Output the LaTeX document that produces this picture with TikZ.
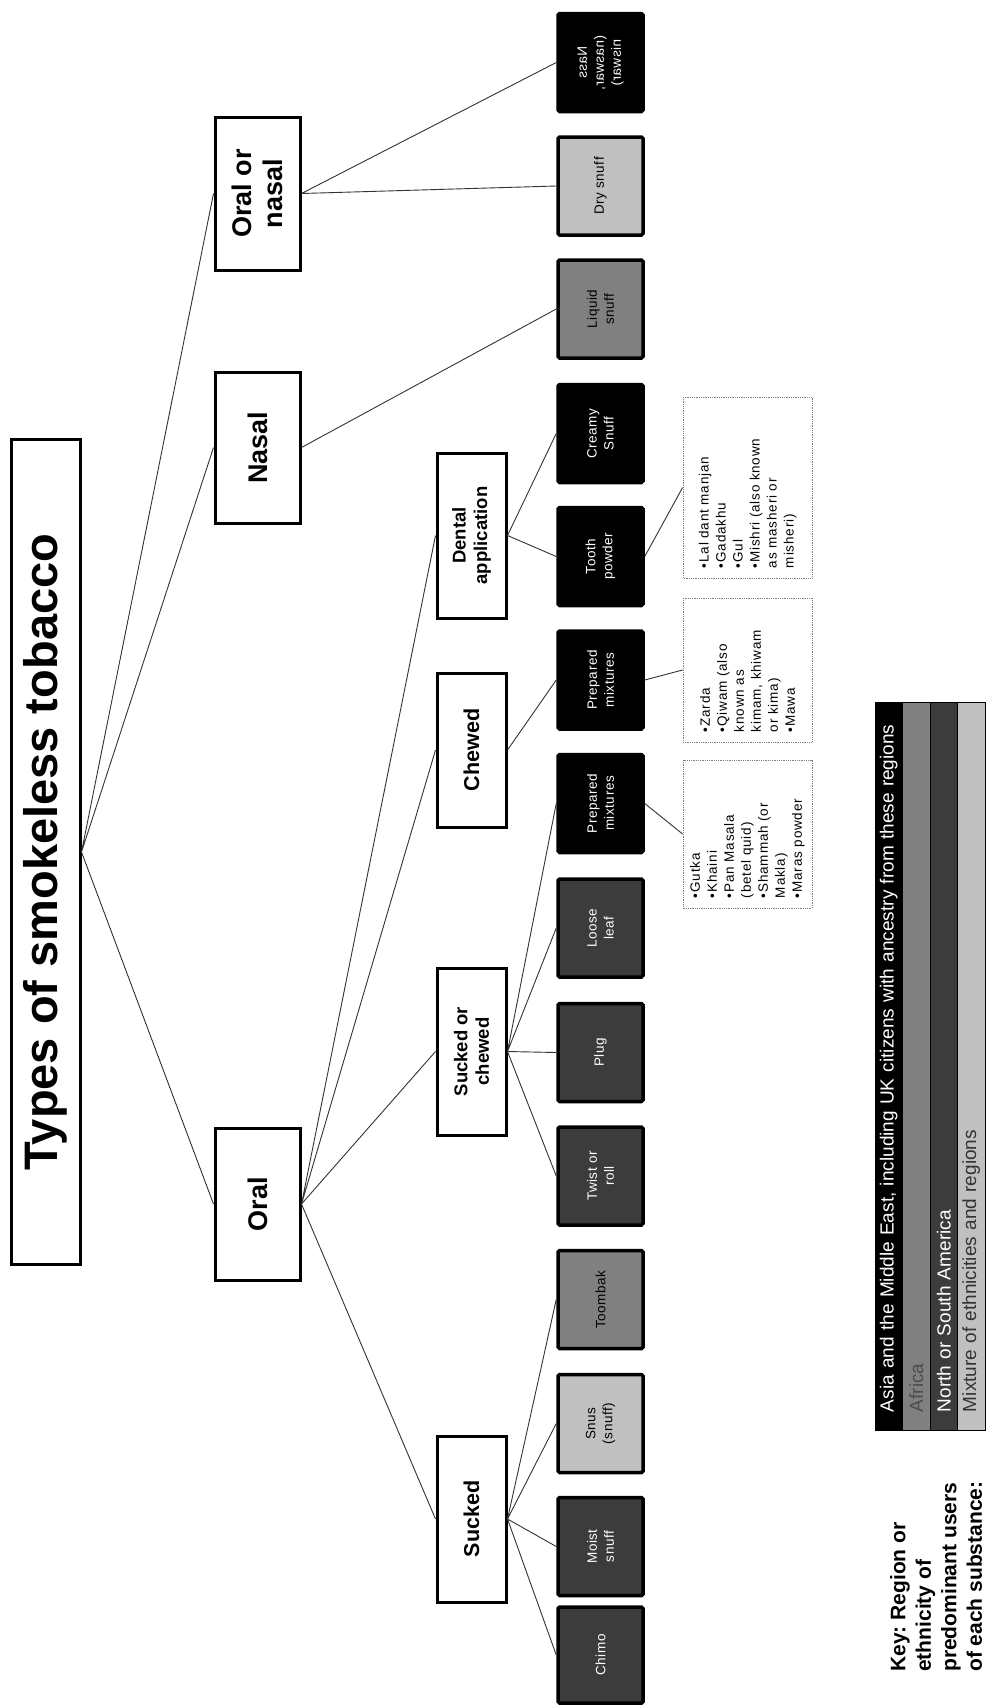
\documentclass[tikz,border=0pt]{standalone}
\usepackage{fontspec}
\setmainfont{Liberation Sans}
\usepackage{tikz}
\definecolor{cAfrica}{HTML}{808080}
\definecolor{cAmer}{HTML}{3C3C3C}
\definecolor{cMix}{HTML}{C0C0C0}

\begin{document}
\frenchspacing
\begin{tikzpicture}[x=1pt,y=-1pt,
hd/.style={draw,line width=3pt,fill=white,rotate=90,align=center,inner sep=2pt},
lvlA/.style={hd,minimum height=85pt,font=\fontsize{27}{31}\selectfont\bfseries},
lvlB/.style={hd,minimum height=69pt,font=\fontsize{18.5}{21.5}\selectfont\bfseries},
leaf/.style={draw,line width=3.5pt,rounded corners=1.5pt,rotate=90,align=center,inner sep=2pt,
  minimum width=98pt,minimum height=85pt,
  font=\fontsize{13.5}{17}\selectfont\addfontfeature{LetterSpace=4}},
asia/.style={leaf,fill=black,text=white},
africa/.style={leaf,fill=cAfrica,text=black},
americas/.style={leaf,fill=cAmer,text=white},
mixed/.style={leaf,fill=cMix,text=black},
lst/.style={draw=gray,densely dotted,line width=.8pt,rotate=90,align=left,minimum height=129pt,
  inner xsep=10pt,font=\fontsize{13.5}{17}\selectfont\addfontfeature{LetterSpace=6}},
keyrow/.style={draw,line width=.8pt,rotate=90,minimum width=728pt,minimum height=27.5pt,
  text width=692pt,align=left,inner sep=0pt,font=\fontsize{19}{21}\selectfont},
link/.style={draw=black!80,line width=.9pt}]
\fill[white] (0,0) rectangle (991,1708);
\useasboundingbox (0,0) rectangle (991,1708);

\node[draw,line width=3pt,rotate=90,minimum width=825pt,minimum height=69pt,
  font=\fontsize{47}{50}\selectfont\bfseries] (T) at (45.5,852) {Types of smokeless tobacco};

\node[lvlA,minimum width=153pt] (ornas) at (257.5,193.5) {Oral or\\nasal};
\node[lvlA,minimum width=151pt] (nasal) at (257.5,447.5) {Nasal};
\node[lvlA,minimum width=152pt] (oral) at (257.5,1204) {Oral};

\node[lvlB,minimum width=165pt] (dent) at (471.5,535.5) {Dental\\application};
\node[lvlB,minimum width=154pt,font=\fontsize{21.5}{25}\selectfont\bfseries] (chew) at (471.5,750) {Chewed};
\node[lvlB,minimum width=167pt] (sorc) at (471.5,1051.5) {Sucked or\\chewed};
\node[lvlB,minimum width=166pt,font=\fontsize{21.5}{25}\selectfont\bfseries] (suck) at (471.5,1519) {Sucked};

\node[asia] (nass) at (600.5,62.5) {\reflectbox{\begin{tabular}{@{}c@{}}Nass\\(naswar,\\niswar)\end{tabular}}};
\node[mixed] (dry) at (600.5,186) {Dry snuff};
\node[africa] (liquid) at (600.5,309) {Liquid\\snuff};
\node[asia] (creamy) at (600.5,433.5) {Creamy\\Snuff};
\node[asia] (tooth) at (600.5,556.5) {Tooth\\powder};
\node[asia] (prepB) at (600.5,680) {Prepared\\mixtures};
\node[asia] (prepA) at (600.5,803.5) {Prepared\\mixtures};
\node[americas] (loose) at (600.5,928) {Loose\\leaf};
\node[americas] (plug) at (600.5,1052.5) {Plug};
\node[americas] (twist) at (600.5,1176) {Twist or\\roll};
\node[africa] (toombak) at (600.5,1299.5) {Toombak};
\node[mixed] (snus) at (600.5,1423.5) {Snus\\(snuff)};
\node[americas] (moist) at (600.5,1546.5) {Moist\\snuff};
\node[americas,minimum width=96pt] (chimo) at (600.5,1655) {Chimo};

\node[lst,minimum width=148pt,text width=128pt] (listA) at (747.5,834)
  {•Gutka\\•Khaini\\•Pan Masala\\(betel quid)\\•Shammah (or\\Makla)\\•Maras powder};
\node[lst,minimum width=144pt,text width=124pt] (listB) at (747.5,670)
  {•Zarda\\•Qiwam (also\\known as\\kimam, khiwam\\or kima)\\•Mawa};
\node[lst,minimum width=181pt,text width=161pt] (listC) at (747.5,487.5)
  {•Lal dant manjan\\•Gadakhu\\•Gul\\•Mishri (also known\\as masheri or\\misheri)};

\draw[link] (T.south) -- (ornas.north) (T.south) -- (nasal.north) (T.south) -- (oral.north);
\draw[link] (ornas.south) -- (nass.north) (ornas.south) -- (dry.north);
\draw[link] (nasal.south) -- (liquid.north);
\draw[link] (oral.south) -- (dent.north) (oral.south) -- (chew.north)
  (oral.south) -- (sorc.north) (oral.south) -- (suck.north);
\draw[link] (dent.south) -- (tooth.north) (dent.south) -- (creamy.north);
\draw[link] (chew.south) -- (prepB.north);
\draw[link] (sorc.south) -- (twist.north) (sorc.south) -- (plug.north)
  (sorc.south) -- (loose.north) (sorc.south) -- (prepA.north);
\draw[link] (suck.south) -- (chimo.north) (suck.south) -- (moist.north)
  (suck.south) -- (snus.north) (suck.south) -- (toombak.north);
\draw[link] (prepA.south) -- (listA.north);
\draw[link] (prepB.south) -- (listB.north);
\draw[link] (tooth.south) -- (listC.north);

% key
\node[keyrow,fill=black,text=white] (kAsia) at (888.75,1066)
  {Asia and the Middle East, including UK citizens with ancestry from these regions};
\node[keyrow,fill=cAfrica,text=black!70] (kAfrica) at (916.25,1066) {Africa};
\node[keyrow,fill=cAmer,text=white] (kAmer) at (943.75,1066) {North or South America};
\node[keyrow,fill=cMix,text=black!80] (kMix) at (971.25,1066) {Mixture of ethnicities and regions};
\node[rotate=90,anchor=north west,inner sep=0pt,align=left,
  font=\fontsize{21}{25.5}\selectfont\bfseries] (key) at (890,1672)
  {Key: Region or\\ethnicity of\\predominant users\\of each substance:};
\end{tikzpicture}
\end{document}
